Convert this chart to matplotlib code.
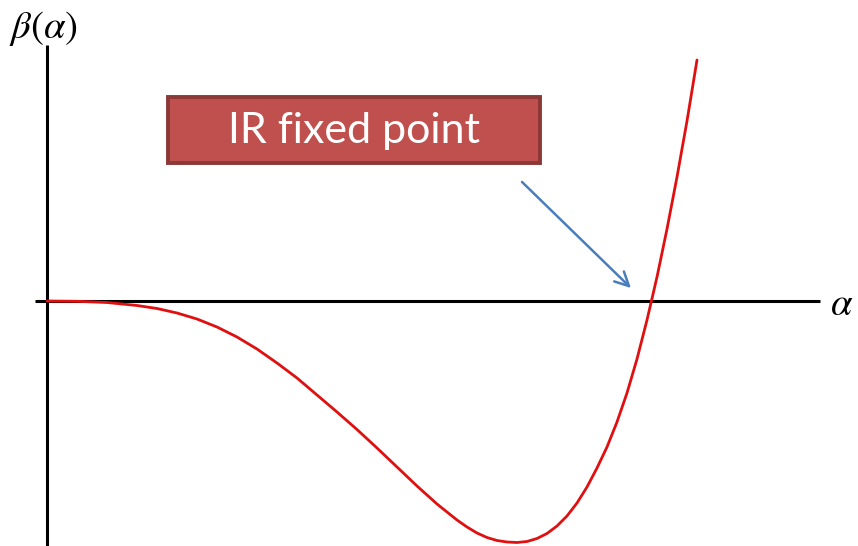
import matplotlib.pyplot as plt
from matplotlib.patches import Rectangle

plt.rcParams['mathtext.fontset'] = 'stix'

# beta function sampled along the coupling
alpha = [0.0, 0.3, 0.6, 0.9, 1.1, 1.3, 1.5, 1.7, 1.9, 2.1, 2.3, 2.5, 2.7,
         2.9, 3.1, 3.3, 3.5, 3.7, 3.9, 4.0, 4.1, 4.2, 4.3, 4.4, 4.5, 4.6,
         4.7, 4.8, 4.9, 5.0, 5.1, 5.2, 5.3, 5.4, 5.5, 5.6, 5.7, 5.8, 5.9,
         6.0, 6.1, 6.2, 6.3, 6.4, 6.5]
beta = [0.0, -0.003, -0.015, -0.045, -0.075, -0.12, -0.18, -0.26, -0.36,
        -0.48, -0.62, -0.77, -0.94, -1.11, -1.285, -1.47, -1.66, -1.85,
        -2.03, -2.11, -2.19, -2.26, -2.32, -2.365, -2.395, -2.41, -2.415,
        -2.405, -2.375, -2.325, -2.25, -2.15, -2.02, -1.86, -1.67, -1.46,
        -1.21, -0.92, -0.58, -0.19, 0.24, 0.72, 1.24, 1.80, 2.41]

label_text = "IR fixed point"

fig = plt.figure(figsize=(8.58, 5.46), dpi=100)
ax = fig.add_axes([0, 0, 1, 1])
ax.set_xlim(-0.47, 8.11)
ax.set_ylim(-2.45, 3.01)
ax.axis('off')

# coordinate axes
ax.plot([0, 0], [-2.45, 2.56], color='black', lw=2.2, solid_capstyle='butt')
ax.plot([-0.12, 7.73], [0, 0], color='black', lw=2.2, solid_capstyle='butt')

ax.plot(alpha, beta, color='#e01010', lw=2.0, solid_joinstyle='round',
        solid_capstyle='round')

ax.text(-0.38, 2.72, r'$\beta(\alpha)$', fontsize=28, ha='left', va='center')
ax.text(7.83, -0.03, r'$\alpha$', fontsize=28, ha='left', va='center')

# callout box
box = Rectangle((1.21, 1.38), 3.72, 0.66, facecolor='#c0504d',
                edgecolor='#8c3836', lw=2.8)
ax.add_patch(box)
ax.text(3.07, 1.70, label_text, fontsize=31, color='white',
        family='Lato', ha='center', va='center')

ax.annotate('', xy=(5.86, 0.11), xytext=(4.73, 1.21),
            arrowprops=dict(arrowstyle='->', color='#4a7ebb', lw=1.8,
                            mutation_scale=25))

fig.savefig('out.png', dpi=100)
